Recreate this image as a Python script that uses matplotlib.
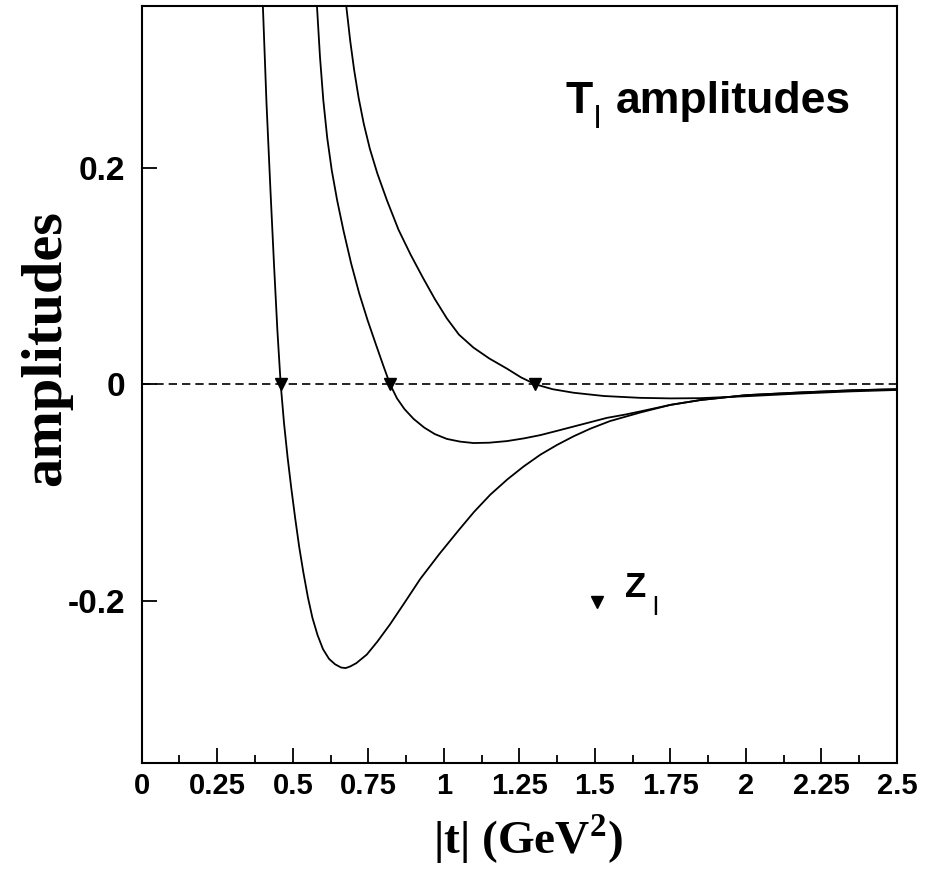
import matplotlib
matplotlib.use("Agg")
import matplotlib.pyplot as plt
from matplotlib.ticker import MultipleLocator

plt.rcParams["mathtext.fontset"] = "custom"
plt.rcParams["mathtext.rm"] = "Liberation Serif:bold"
plt.rcParams["mathtext.bf"] = "Liberation Serif:bold"

# curve values (t in GeV^2, amplitude)
t1 = [0.401, 0.413, 0.426, 0.438, 0.449, 0.460, 0.471, 0.483, 0.495, 0.508,
      0.521, 0.535, 0.550, 0.565, 0.582, 0.600, 0.620, 0.640, 0.660, 0.675,
      0.690, 0.710, 0.745, 0.780, 0.822, 0.870, 0.922, 0.985, 1.049, 1.100,
      1.154, 1.210, 1.264, 1.320, 1.375, 1.430, 1.485, 1.550, 1.651, 1.750,
      1.850, 2.000, 2.180, 2.350, 2.500]
a1 = [0.350, 0.260, 0.180, 0.110, 0.050, 0.000, -0.036, -0.068, -0.096, -0.124,
      -0.150, -0.174, -0.197, -0.216, -0.232, -0.245, -0.254, -0.259, -0.262, -0.2625,
      -0.261, -0.258, -0.250, -0.238, -0.222, -0.202, -0.180, -0.157, -0.135, -0.118,
      -0.102, -0.088, -0.076, -0.065, -0.056, -0.048, -0.041, -0.034, -0.026, -0.019,
      -0.0145, -0.010, -0.0075, -0.0055, -0.0045]

t2 = [0.580, 0.590, 0.601, 0.614, 0.629, 0.647, 0.668, 0.693, 0.720, 0.748,
      0.775, 0.800, 0.822, 0.845, 0.870, 0.900, 0.935, 0.970, 1.010, 1.054,
      1.098, 1.150, 1.209, 1.265, 1.319, 1.375, 1.430, 1.485, 1.540, 1.600,
      1.651, 1.750, 1.850, 2.000, 2.180, 2.350, 2.500]
a2 = [0.350, 0.303, 0.263, 0.228, 0.198, 0.170, 0.142, 0.112, 0.084, 0.059,
      0.037, 0.017, 0.000, -0.013, -0.023, -0.032, -0.040, -0.046, -0.0505, -0.053,
      -0.0543, -0.054, -0.0525, -0.050, -0.047, -0.043, -0.039, -0.035, -0.031, -0.028,
      -0.025, -0.019, -0.0145, -0.010, -0.0075, -0.0055, -0.0045]

t3 = [0.677, 0.690, 0.703, 0.718, 0.735, 0.755, 0.780, 0.812, 0.850, 0.890,
      0.930, 0.970, 1.010, 1.050, 1.098, 1.150, 1.209, 1.255, 1.303, 1.360,
      1.430, 1.530, 1.650, 1.750, 1.849, 2.000, 2.180, 2.350, 2.500]
a3 = [0.350, 0.318, 0.291, 0.265, 0.241, 0.218, 0.195, 0.170, 0.143, 0.120,
      0.099, 0.079, 0.061, 0.046, 0.034, 0.024, 0.0145, 0.0065, 0.000, -0.0045,
      -0.0078, -0.0108, -0.0125, -0.013, -0.0128, -0.011, -0.0085, -0.0065, -0.0052]

# zeros Z_l
zeros_t = [0.460, 0.822, 1.303]
zeros_a = [0.0, 0.0, 0.0]

xticks = [0, 0.25, 0.5, 0.75, 1, 1.25, 1.5, 1.75, 2, 2.25, 2.5]
xticklabels = ["0", "0.25", "0.5", "0.75", "1", "1.25", "1.5", "1.75", "2", "2.25", "2.5"]
yticks = [-0.2, 0, 0.2]
yticklabels = ["-0.2", "0", "0.2"]

fig = plt.figure(figsize=(9.38, 8.73), dpi=100)
ax = fig.add_axes([0.1511, 0.1264, 0.8052, 0.8667])

ax.axhline(0, color="black", lw=1.2, ls=(0, (5, 3)))
for t, a in [(t1, a1), (t2, a2), (t3, a3)]:
    ax.plot(t, a, color="black", lw=1.3)
ax.plot(zeros_t, zeros_a, "v", color="black", ms=9, ls="none")

# legend-like marker and labels
ax.plot([1.507], [-0.201], "v", color="black", ms=8)
ax.text(1.598, -0.1963, "Z", fontsize=25, fontweight="bold",
        family="Liberation Sans", va="baseline")
ax.text(1.690, -0.213, "l", fontsize=19, family="Liberation Sans", va="baseline")

ax.text(1.402, 0.2506, "T", fontsize=32, fontweight="bold",
        family="Liberation Sans", va="baseline")
ax.text(1.497, 0.2367, "l", fontsize=23, family="Liberation Sans", va="baseline")
ax.text(1.568, 0.2506, "amplitudes", fontsize=32, fontweight="bold",
        family="Liberation Sans", va="baseline")

ax.set_xlim(0, 2.5)
ax.set_ylim(-0.35, 0.35)

ax.set_xticks(xticks)
ax.set_xticklabels(xticklabels, family="Liberation Sans", fontsize=21, fontweight="bold")
ax.xaxis.set_minor_locator(MultipleLocator(0.125))
ax.set_yticks(yticks)
ax.set_yticklabels(yticklabels, family="Liberation Sans", fontsize=24, fontweight="bold")

ax.tick_params(axis="x", which="major", direction="in", length=11, width=1.3, pad=7)
ax.tick_params(axis="x", which="minor", direction="in", length=6, width=1.3)
ax.tick_params(axis="y", which="major", direction="in", length=11, width=1.3, pad=12)
ax.tick_params(top=False, right=False)

for s in ax.spines.values():
    s.set_linewidth(1.5)

ax.set_xlabel(r"|t| (GeV$^{2}$)", family="Liberation Serif", fontsize=34, fontweight="bold")
ax.xaxis.set_label_coords(0.511, -0.066)
ax.set_ylabel("amplitudes", family="Liberation Serif", fontsize=42, fontweight="bold")
ax.yaxis.set_label_coords(-0.092, 0.548)

fig.savefig("out.png", dpi=100)
